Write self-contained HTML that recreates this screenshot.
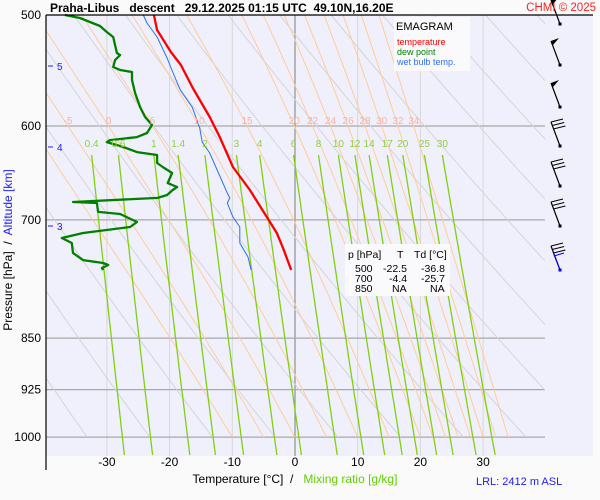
<!DOCTYPE html>
<html><head><meta charset="utf-8"><style>
body{margin:0;background:#fafafa;}
svg{display:block;font-family:"Liberation Sans",sans-serif;}
text{white-space:pre;}
</style></head><body>
<svg id="chart" width="600" height="500">
<rect x="0" y="0" width="600" height="500" fill="#fafafa"/>
<rect x="46" y="15" width="547" height="441" fill="#f0f0fc"/>
<g id="grid"></g><g id="lines"></g><g id="series"></g><g id="labels"></g><g id="barbs"></g>
<line x1="46" y1="15" x2="593" y2="15" stroke="#000" stroke-width="1.2"/>
<line x1="46" y1="15" x2="46" y2="470" stroke="#000" stroke-width="1.2"/>
<text x="50" y="12" font-size="12" font-weight="bold" xml:space="preserve">Praha-Libus   descent   29.12.2025 01:15 UTC  49.10N,16.20E</text>
<text x="596" y="11" font-size="11.5" fill="#ff2020" text-anchor="end">CHMI © 2025</text>
<rect x="394" y="17" width="76" height="54" fill="#fafafc"/>
<text x="396" y="30" font-size="11">EMAGRAM</text>
<text x="397" y="45" font-size="9" fill="#ff0000">temperature</text>
<text x="397" y="55" font-size="9" fill="#008000">dew point</text>
<text x="397" y="65" font-size="9" fill="#3070ff">wet bulb temp.</text>
<rect x="345" y="244" width="105" height="52" fill="#fafafc"/>
<g font-size="10.5">
<text x="348" y="258">p [hPa]</text><text x="397" y="258">T</text><text x="414" y="258">Td [°C]</text>
<text x="355" y="272">500</text><text x="383" y="272">-22.5</text><text x="421" y="272">-36.8</text>
<text x="355" y="282">700</text><text x="389" y="282">-4.4</text><text x="421" y="282">-25.7</text>
<text x="355" y="292">850</text><text x="392" y="292">NA</text><text x="430" y="292">NA</text>
</g>
<text transform="translate(12,250) rotate(-90)" font-size="12" text-anchor="middle" xml:space="preserve">Pressure [hPa]  /  <tspan fill="#2020ff">Altitude [km]</tspan></text>
<text x="295" y="483" font-size="12" text-anchor="middle" xml:space="preserve">Temperature [°C]  /   <tspan fill="#60d000">Mixing ratio [g/kg]</tspan></text>
<text x="476" y="485" font-size="11" fill="#2020ff">LRL: 2412 m ASL</text>
</svg>
<script>
const pLevels=[500,600,700,850,925,1000];
const tTicks=[-30,-20,-10,0,10,20,30];
const altKm=[5,4,3];
const altY=[66,147,226];
const moistLabels=[-5,0,5,10,15,20,22,24,26,28,30,32,34];
const moistTheta=[-10,-5,0,5,10,15,20,22,24,26,28,30,32,34];
const mixRatios=[0.4,0.6,1,1.4,2,3,4,6,8,10,12,14,17,20,25,30];
const dryTheta=[230,240,250,260,270,280,290,300,310,320,330,340,350,360,370,380,390,400,410,420];
const tempP=[500,512.5,531.3,542.8,563.7,591.2,611,641.8,666.5,696.7,715.2,733.3,760];
const tempT=[-22.5,-22.0,-19.8,-18.2,-16.3,-13.6,-12.0,-9.9,-7.2,-4.5,-2.9,-1.9,-0.6];
const dewP=[500,502.5,509.1,514.2,518.4,532.2,534,538.4,544.6,547.3,549.1,556.3,568.3,581.6,591.2,599,606.9,611,614,616,621,626.2,629.2,637.6,641.8,648.1,658.9,663.2,666.5,671.9,675.2,679.7,680.8,690.9,693.2,702.4,708.2,715.2,721.1,727.1,739.1,747.7,751.3,753.8,757.5,760];
const dewT=[-36.7,-34.3,-31.1,-30.0,-29.0,-28.4,-27.9,-28.7,-29.0,-27.9,-26.0,-26.0,-25.5,-24.7,-23.9,-22.8,-23.6,-25.2,-29.5,-30.0,-27.4,-25.2,-22.0,-22.0,-21.1,-19.6,-20.3,-18.8,-19.5,-20.4,-21.9,-35.4,-31.6,-31.4,-27.9,-25.2,-26.3,-33.8,-37.2,-35.6,-35.4,-33.8,-30.6,-29.8,-30.8,-30.6];
const wetP=[500,506.6,518.4,536.6,549.1,565.6,581.6,601.9,616,627.2,669.8,675.2,680.8,696.6,708.2,727.1,744,760];
const wetT=[-24.2,-23.6,-22.0,-20.4,-19.5,-18.3,-16.4,-15.2,-14.8,-13.6,-10.8,-10.4,-10.8,-9.9,-8.8,-8.8,-7.5,-7.0];
const barbY=[24,65,107,146,186,226,270];
const barbType=[1,1,1,3,3,3,3];

const NS='http://www.w3.org/2000/svg';
const X=t=>295+6.27*t;
const Y=p=>15+609*Math.log(p/500);
function mk(tag,attrs,parent){const e=document.createElementNS(NS,tag);for(const k in attrs)e.setAttribute(k,attrs[k]);parent.appendChild(e);return e;}
const G=document.getElementById('grid'),L=document.getElementById('lines'),S=document.getElementById('series'),LB=document.getElementById('labels'),B=document.getElementById('barbs');
const clip=mk('clipPath',{id:'pc'},document.getElementById('chart'));
mk('rect',{x:46,y:15,width:499,height:441},clip);
L.setAttribute('clip-path','url(#pc)');

tTicks.forEach(t=>{
  const l=mk('line',{x1:X(t),x2:X(t),y1:15,y2:456,stroke:t===0?'#909090':'#d8d8d8','stroke-width':t===0?1.2:1},G);
  
  
  const tx=mk('text',{x:X(t),y:466,'font-size':12,'text-anchor':'middle'},LB);tx.textContent=t;
  
  
});
pLevels.forEach(p=>{
  if(p!==500){const l=mk('line',{x1:46,x2:545,y1:Y(p),y2:Y(p),stroke:'#a8a8a8','stroke-width':1.2},G);
  
  }
  const tx=mk('text',{x:41,y:Y(p)+4,'font-size':12,'text-anchor':'end'},LB);tx.textContent=p;
  
  
});
altKm.forEach((k,i)=>{
  const l=mk('line',{x1:48,x2:53,y1:altY[i],y2:altY[i],stroke:'#2020ff'},LB);
  
  
  const tx=mk('text',{x:57,y:altY[i]+4,'font-size':10,fill:'#2020ff'},LB);tx.textContent=k;
  
  
});
dryTheta.forEach(th=>{
  let d='';for(let p=500;p<=1000;p+=10){const T=th*Math.pow(p/1000,0.2857)-273.15;d+=(p===500?'M':'L')+X(T).toFixed(1)+','+Y(p).toFixed(1);}
  const e=mk('path',{d,fill:'none',stroke:'#d4d4d8','stroke-width':1},L);
  
  
});
function es(T){return 6.112*Math.exp(17.67*T/(T+243.5));}
function dTdp(p,T){const Tk=T+273.15,e=es(T),rs=0.622*e/(p-e),Lv=2.5e6,Rd=287,cp=1004;
  return (Rd*Tk+Lv*rs)/(p*(cp+Lv*Lv*rs*0.622/(Rd*Tk*Tk)));}
moistTheta.forEach(th=>{
  let T=th,p=1000,pts=[[p,T]];
  while(p>500){const h=-2;const k1=dTdp(p,T),k2=dTdp(p+h/2,T+h/2*k1),k3=dTdp(p+h/2,T+h/2*k2),k4=dTdp(p+h,T+h*k3);T+=h/6*(k1+2*k2+2*k3+k4);p+=h;pts.push([p,T]);}
  const d=pts.map((q,i)=>(i?'L':'M')+X(q[1]).toFixed(1)+','+Y(q[0]).toFixed(1)).join('');
  const e=mk('path',{d,fill:'none',stroke:'#ffcc99','stroke-width':1},L);
  
  
  if(moistLabels.includes(th)){const q=pts.find(q=>q[0]<=600);
    const tx=mk('text',{x:X(q[1]),y:124,'font-size':10,fill:'#ffb0a0','text-anchor':'middle'},LB);tx.textContent=th;
    
    }
});
function tdFromE(e){const a=Math.log(e/6.112);return 243.5*a/(17.67-a);}
mixRatios.forEach(w=>{
  let d='';let first=null;
  for(let y=155;y<=456;y+=5){const p=500*Math.exp((y-15)/609);const e=w*p/(622+w);const T=tdFromE(e);if(first===null)first=T;d+=(y===155?'M':'L')+X(T).toFixed(1)+','+y;}
  const e=mk('path',{d,fill:'none',stroke:'#80d010','stroke-width':1.3},L);
  
  
  const tx=mk('text',{x:X(first),y:147,'font-size':10,fill:'#90d040','text-anchor':'middle'},LB);tx.textContent=w;
  
  
});
function series(P,T,color,w,name){
  const d=P.map((p,i)=>(i?'L':'M')+X(T[i]).toFixed(1)+','+Y(p).toFixed(1)).join('');
  const e=mk('path',{d,fill:'none',stroke:color,'stroke-width':w,'stroke-linejoin':'round'},S);
  
  
}
series(wetP,wetT,'#2a6ff0',1,'wet-bulb-line');
series(dewP,dewT,'#008000',2.3,'dew-point-line');
series(tempP,tempT,'#ff0000',2.3,'temperature-line');
barbY.forEach((y,i)=>{
  const g=mk('g',{},B);
  
  
  const c=i===6?'#0000ff':'#000';
  mk('line',{x1:560,y1:y,x2:551,y2:y-24,stroke:'#000','stroke-width':1.2},g);
  mk('rect',{x:558.5,y:y-1.5,width:3,height:3,fill:c},g);
  if(barbType[i]===1){mk('polygon',{points:`${551},${y-24} ${559},${y-27} ${553},${y-20}`,fill:'#000'},g);}
  else{for(let k=0;k<3;k++){mk('line',{x1:551+k*1.2,y1:y-24+k*3.5,x2:563+k*1.2,y2:y-27+k*3.5,stroke:'#000','stroke-width':1},g);}
    if(i===6){mk('line',{x1:554,y1:y-14,x2:564,y2:y-17,stroke:'#0000ff'},g);mk('line',{x1:553,y1:y-18,x2:560,y2:y,stroke:'#0000ff'},g);}}
});
</script>
</body></html>
